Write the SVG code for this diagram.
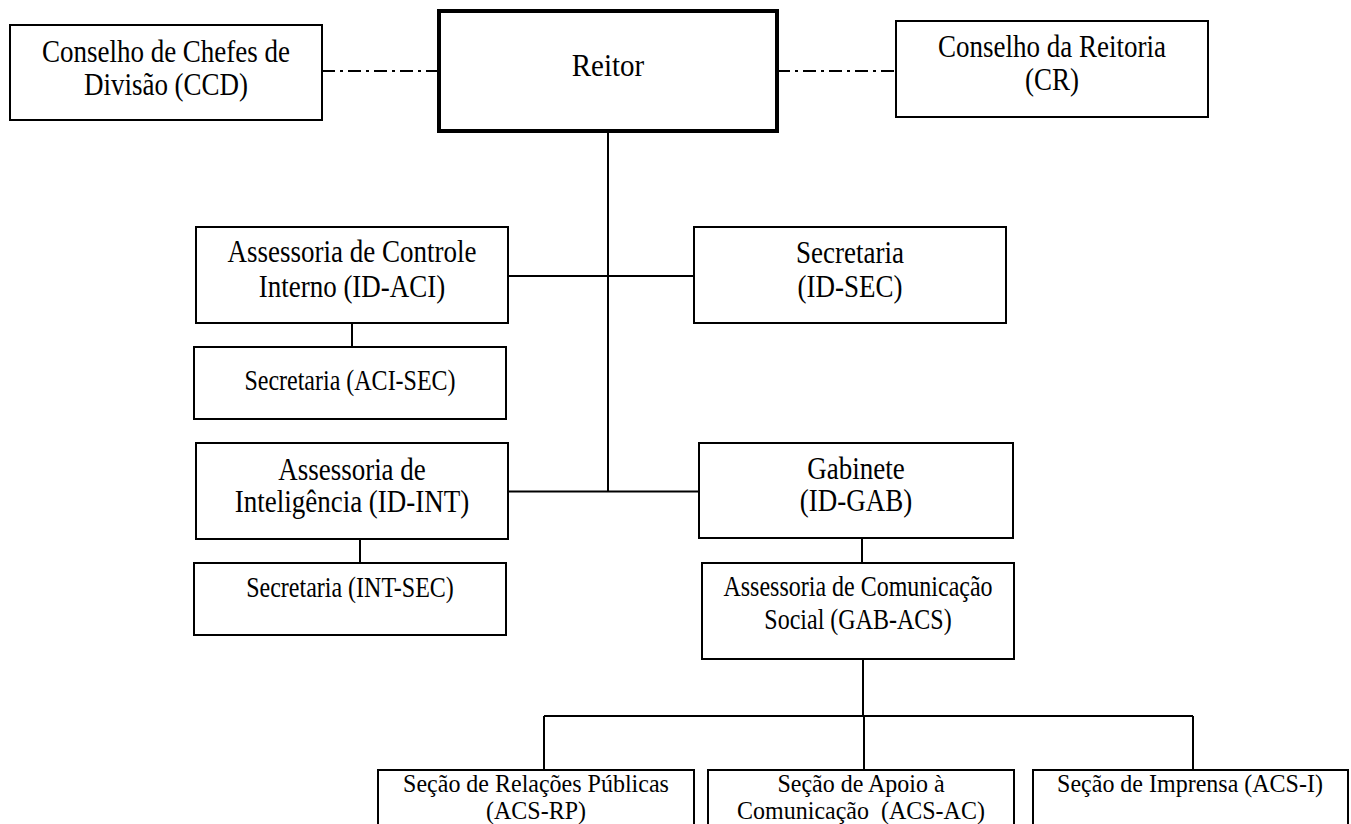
<svg xmlns="http://www.w3.org/2000/svg" width="1351" height="824" viewBox="0 0 1351 824">
<style>
  .box { fill: #ffffff; stroke: #000000; stroke-width: 2; }
  .boss { fill: #ffffff; stroke: #000000; stroke-width: 4; }
  .ln { fill: none; stroke: #000000; stroke-width: 2; }
  .dd { fill: none; stroke: #000000; stroke-width: 2; stroke-dasharray: 13 5 3 5; }
  text { font-family: "Liberation Serif", "Times New Roman", serif; fill: #000000; text-anchor: middle; }
  .big { font-size: 27px; }
  .top { font-size: 29px; }
  .sm { font-size: 24px; }
</style>
<rect width="1351" height="824" fill="#ffffff"/>
<g id="connectors">
  <line class="dd" x1="322" y1="71" x2="439" y2="71"/>
  <line class="dd" x1="777" y1="71" x2="896" y2="71"/>
  <line class="ln" x1="608" y1="131" x2="608" y2="491.5"/>
  <line class="ln" x1="508" y1="276" x2="694" y2="276"/>
  <line class="ln" x1="508" y1="491.5" x2="699" y2="491.5"/>
  <line class="ln" x1="352" y1="323" x2="352" y2="347"/>
  <line class="ln" x1="360" y1="539" x2="360" y2="563"/>
  <line class="ln" x1="862" y1="538" x2="862" y2="563"/>
  <line class="ln" x1="863" y1="659" x2="863" y2="716"/>
  <line class="ln" x1="544" y1="716" x2="1193" y2="716"/>
  <line class="ln" x1="544" y1="716" x2="544" y2="770"/>
  <line class="ln" x1="864" y1="716" x2="864" y2="770"/>
  <line class="ln" x1="1193" y1="716" x2="1193" y2="770"/>
</g>
<g id="ccd">
  <rect class="box" x="10" y="25" width="312" height="95"/>
  <text class="big" transform="translate(166,62) scale(1,1.15)">Conselho de Chefes de</text>
  <text class="big" transform="translate(166,95) scale(1,1.15)">Divisão (CCD)</text>
</g>
<g id="reitor">
  <rect class="boss" x="439" y="11" width="338" height="120"/>
  <text class="top" transform="translate(608,76) scale(1,1.1)">Reitor</text>
</g>
<g id="cr">
  <rect class="box" x="896" y="21" width="312" height="96"/>
  <text class="big" transform="translate(1052,57) scale(1,1.15)">Conselho da Reitoria</text>
  <text class="big" transform="translate(1052,90) scale(1,1.15)">(CR)</text>
</g>
<g id="id-aci">
  <rect class="box" x="196" y="227" width="312" height="96"/>
  <text class="big" transform="translate(352,262) scale(1,1.15)">Assessoria de Controle</text>
  <text class="big" transform="translate(352,297) scale(1,1.15)">Interno (ID-ACI)</text>
</g>
<g id="id-sec">
  <rect class="box" x="694" y="227" width="312" height="96"/>
  <text class="big" transform="translate(850,263) scale(1,1.15)">Secretaria</text>
  <text class="big" transform="translate(850,297) scale(1,1.15)">(ID-SEC)</text>
</g>
<g id="aci-sec">
  <rect class="box" x="194" y="347" width="312" height="72"/>
  <text class="sm" transform="translate(350,390) scale(1,1.2)">Secretaria (ACI-SEC)</text>
</g>
<g id="id-int">
  <rect class="box" x="196" y="443" width="312" height="96"/>
  <text class="big" transform="translate(352,480) scale(1,1.15)">Assessoria de</text>
  <text class="big" transform="translate(352,512) scale(1,1.15)">Inteligência (ID-INT)</text>
</g>
<g id="id-gab">
  <rect class="box" x="699" y="443" width="314" height="95"/>
  <text class="big" transform="translate(856,479) scale(1,1.15)">Gabinete</text>
  <text class="big" transform="translate(856,511) scale(1,1.15)">(ID-GAB)</text>
</g>
<g id="int-sec">
  <rect class="box" x="194" y="563" width="312" height="72"/>
  <text class="sm" transform="translate(350,597) scale(1,1.2)">Secretaria (INT-SEC)</text>
</g>
<g id="gab-acs">
  <rect class="box" x="702" y="563" width="312" height="96"/>
  <text class="sm" transform="translate(858,596) scale(1,1.2)">Assessoria de Comunicação</text>
  <text class="sm" transform="translate(858,629) scale(1,1.2)">Social (GAB-ACS)</text>
</g>
<g id="acs-rp">
  <rect class="box" x="378" y="770" width="316" height="70"/>
  <text class="sm" transform="translate(536,792) scale(1,1.08)">Seção de Relações Públicas</text>
  <text class="sm" transform="translate(536,819) scale(1,1.08)">(ACS-RP)</text>
</g>
<g id="acs-ac">
  <rect class="box" x="708" y="770" width="306" height="70"/>
  <text class="sm" transform="translate(861,792) scale(1,1.08)">Seção de Apoio à</text>
  <text class="sm" transform="translate(861,819) scale(1,1.08)" xml:space="preserve">Comunicação  (ACS-AC)</text>
</g>
<g id="acs-i">
  <rect class="box" x="1033" y="770" width="315" height="70"/>
  <text class="sm" transform="translate(1190,792) scale(1,1.08)">Seção de Imprensa (ACS-I)</text>
</g>
</svg>
